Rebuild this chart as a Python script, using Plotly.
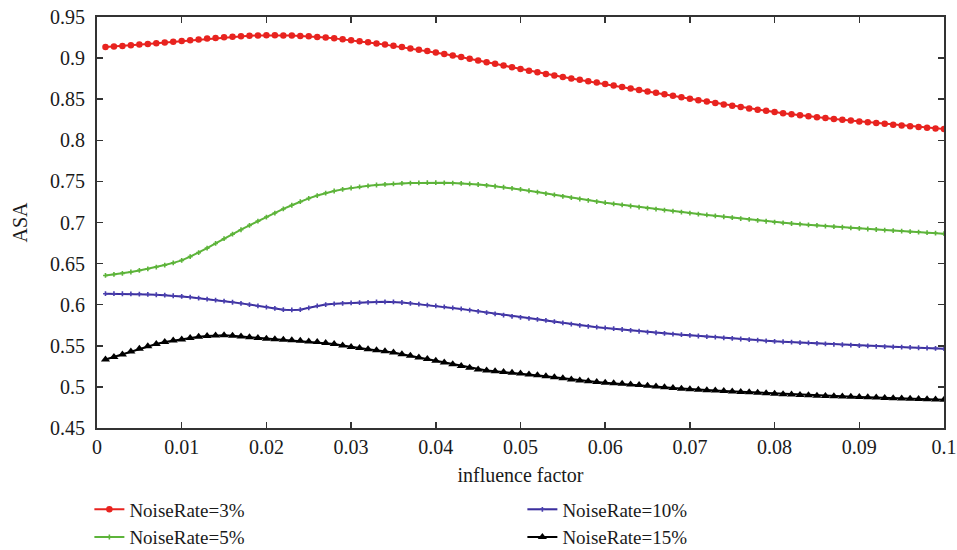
import plotly.graph_objects as go

x_vals = [round(0.001 * i, 3) for i in range(1, 101)]

red_3 = [.9135,.9141,.9148,.9156,.9165,.9173,.9181,.9189,.9198,.9207,
         .9217,.9227,.9237,.9246,.9254,.9261,.9267,.9272,.9275,.9277,
         .9277,.9276,.9274,.9270,.9265,.9258,.9250,.9240,.9229,.9217,
         .9205,.9192,.9178,.9164,.9149,.9134,.9118,.9102,.9086,.9069,
         .9051,.9032,.9013,.8993,.8972,.8951,.8930,.8909,.8888,.8867,
         .8847,.8827,.8808,.8789,.8771,.8753,.8736,.8719,.8702,.8685,
         .8667,.8649,.8631,.8613,.8595,.8577,.8559,.8541,.8523,.8505,
         .8488,.8471,.8454,.8437,.8420,.8404,.8388,.8373,.8358,.8343,
         .8329,.8316,.8304,.8292,.8281,.8270,.8260,.8250,.8240,.8230,
         .8220,.8210,.8200,.8190,.8181,.8172,.8163,.8154,.8145,.8136]

green_5 = [.6356,.6368,.6381,.6398,.6417,.6437,.6458,.6482,.6509,.6539,
           .6585,.6634,.6688,.6745,.6803,.6858,.6912,.6965,.7017,.7066,
           .7115,.7165,.7210,.7253,.7293,.7328,.7358,.7383,.7403,.7420,
           .7434,.7446,.7456,.7464,.7471,.7476,.7480,.7482,.7484,.7484,
           .7483,.7480,.7476,.7470,.7462,.7452,.7441,.7429,.7416,.7402,
           .7386,.7369,.7352,.7335,.7318,.7302,.7286,.7270,.7255,.7241,
           .7227,.7214,.7201,.7188,.7175,.7162,.7150,.7138,.7126,.7114,
           .7103,.7092,.7081,.7070,.7059,.7048,.7037,.7026,.7015,.7005,
           .6996,.6988,.6980,.6972,.6965,.6957,.6950,.6942,.6935,.6928,
           .6921,.6915,.6908,.6902,.6895,.6889,.6883,.6876,.6870,.6864]

blue_10 = [.6134,.6134,.6133,.6131,.6129,.6125,.6121,.6116,.6109,.6101,
           .6091,.6080,.6068,.6056,.6044,.6030,.6016,.6001,.5985,.5970,
           .5955,.5940,.5937,.5940,.5962,.5985,.6002,.6011,.6017,.6021,
           .6025,.6029,.6033,.6035,.6034,.6027,.6016,.6006,.5996,.5985,
           .5974,.5961,.5948,.5934,.5919,.5903,.5888,.5873,.5858,.5846,
           .5834,.5822,.5809,.5794,.5779,.5763,.5748,.5737,.5727,.5718,
           .5708,.5698,.5688,.5677,.5667,.5659,.5651,.5643,.5635,.5627,
           .5619,.5612,.5605,.5597,.5590,.5583,.5575,.5568,.5561,.5554,
           .5549,.5544,.5539,.5535,.5530,.5524,.5518,.5513,.5507,.5501,
           .5498,.5494,.5491,.5487,.5484,.5480,.5476,.5473,.5469,.5465]

black_15 = [.5334,.5365,.5395,.5430,.5465,.5495,.5522,.5545,.5563,.5578,
            .5595,.5610,.5620,.5625,.5627,.5622,.5614,.5605,.5596,.5586,
            .5580,.5574,.5568,.5561,.5553,.5545,.5535,.5522,.5505,.5486,
            .5472,.5458,.5446,.5434,.5420,.5398,.5378,.5358,.5338,.5318,
            .5298,.5277,.5255,.5232,.5212,.5200,.5190,.5181,.5173,.5163,
            .5152,.5141,.5130,.5117,.5104,.5091,.5078,.5068,.5059,.5051,
            .5044,.5037,.5030,.5023,.5015,.5006,.4996,.4986,.4978,.4970,
            .4965,.4960,.4955,.4950,.4945,.4939,.4934,.4928,.4922,.4917,
            .4912,.4907,.4902,.4898,.4893,.4890,.4886,.4883,.4879,.4876,
            .4873,.4870,.4866,.4863,.4860,.4857,.4854,.4850,.4847,.4844]

x_tickvals = [0, 0.01, 0.02, 0.03, 0.04, 0.05, 0.06, 0.07, 0.08, 0.09, 0.1]
x_ticktext = ["0", "0.01", "0.02", "0.03", "0.04", "0.05", "0.06", "0.07", "0.08", "0.09", "0.1"]
y_tickvals = [0.45, 0.5, 0.55, 0.6, 0.65, 0.7, 0.75, 0.8, 0.85, 0.9, 0.95]
y_ticktext = ["0.45", "0.5", "0.55", "0.6", "0.65", "0.7", "0.75", "0.8", "0.85", "0.9", "0.95"]

FONT = "Liberation Serif"
TXT = "#1a1a1a"

fig = go.Figure()
fig.add_trace(go.Scatter(x=x_vals, y=red_3, name="NoiseRate=3%", mode="lines+markers",
                         line=dict(color="#e8231f", width=2),
                         marker=dict(symbol="circle", size=6.5, color="#e8231f")))
fig.add_trace(go.Scatter(x=x_vals, y=blue_10, name="NoiseRate=10%", mode="lines+markers",
                         line=dict(color="#3b2f9e", width=2),
                         marker=dict(symbol="cross", size=4, color="#4a3fae")))
fig.add_trace(go.Scatter(x=x_vals, y=green_5, name="NoiseRate=5%", mode="lines+markers",
                         line=dict(color="#5db43a", width=2),
                         marker=dict(symbol="cross", size=4, color="#5db43a")))
fig.add_trace(go.Scatter(x=x_vals, y=black_15, name="NoiseRate=15%", mode="lines+markers",
                         line=dict(color="#000000", width=2),
                         marker=dict(symbol="triangle-up", size=8, color="#000000")))

axis_common = dict(showline=True, linecolor="#333333", linewidth=2, mirror="ticks",
                   ticks="inside", ticklen=6, tickwidth=1.5, tickcolor="#333333",
                   showgrid=False, zeroline=False, automargin=False,
                   ticklabeloverflow="allow",
                   tickfont=dict(family=FONT, size=20, color=TXT))

fig.update_xaxes(range=[0, 0.1], tickvals=x_tickvals, ticktext=x_ticktext, ticklabelstandoff=0,
                 title=dict(text="influence factor", font=dict(family=FONT, size=20, color=TXT), standoff=11),
                 **axis_common)
fig.update_yaxes(range=[0.45, 0.95], tickvals=y_tickvals, ticktext=y_ticktext, ticklabelstandoff=6,
                 title=dict(text="ASA", font=dict(family=FONT, size=20, color=TXT), standoff=17),
                 **axis_common)

fig.update_layout(
    width=957, height=550,
    margin=dict(l=97, r=13, t=17, b=122, autoexpand=False),
    paper_bgcolor="white", plot_bgcolor="white",
    font=dict(family=FONT, size=20, color=TXT),
    legend=dict(orientation="h", x=-0.009, xanchor="left", y=-0.152, yanchor="top",
                entrywidth=388, entrywidthmode="pixels", tracegroupgap=0,
                font=dict(family=FONT, size=19, color=TXT), itemwidth=30),
    showlegend=True,
)

fig.write_html("out.html",
               config={"displayModeBar": False, "staticPlot": True},
               post_script="document.body.style.margin='0';document.body.style.overflow='hidden';")
